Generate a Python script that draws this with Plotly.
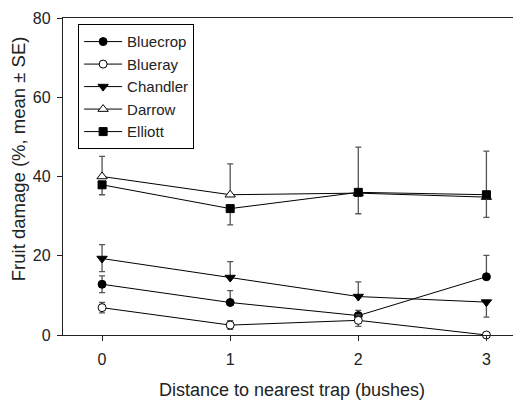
import plotly.graph_objects as go

# Distance to nearest trap (bushes)
distance = [0, 1, 2, 3]

cultivars = ["Bluecrop", "Blueray", "Chandler", "Darrow", "Elliott"]

# Mean fruit damage (%) per cultivar
bluecrop = [12.8, 8.2, 4.9, 14.7]
blueray = [6.9, 2.5, 3.7, 0.0]
chandler = [19.3, 14.5, 9.7, 8.3]
darrow = [40.0, 35.4, 35.8, 34.8]
elliott = [37.9, 31.9, 36.0, 35.4]

# Standard errors as drawn (upper / lower part of each bar)
bluecrop_se_up = [2.1, 3.0, 1.3, 5.4]
bluecrop_se_down = [2.1, 0, 0, 0]
blueray_se_up = [1.3, 1.1, 1.4, 0]
blueray_se_down = [1.3, 1.1, 1.5, 0]
chandler_se_up = [3.5, 4.0, 3.7, 0]
chandler_se_down = [3.3, 0, 0, 3.8]
darrow_se_up = [5.1, 7.8, 11.6, 11.6]
darrow_se_down = [0, 0, 0, 0]
elliott_se_up = [0, 0, 0, 0]
elliott_se_down = [2.5, 4.1, 5.4, 5.7]

series = [
    (bluecrop, bluecrop_se_up, bluecrop_se_down, "circle"),
    (blueray, blueray_se_up, blueray_se_down, "circle-open"),
    (chandler, chandler_se_up, chandler_se_down, "triangle-down"),
    (darrow, darrow_se_up, darrow_se_down, "triangle-up-open"),
    (elliott, elliott_se_up, elliott_se_down, "square"),
]

fig = go.Figure()

for name, (vals, up, down, sym) in zip(cultivars, series):
    open_marker = sym.endswith("-open")
    fig.add_trace(go.Scatter(
        x=distance, y=vals, name=name, mode="lines+markers",
        line=dict(color="black", width=1),
        marker=dict(symbol=sym.replace("-open", ""), size=9 if "triangle" in sym else 8,
                    color="white" if open_marker else "black",
                    line=dict(color="black", width=1)),
        error_y=dict(type="data", symmetric=False, array=up, arrayminus=down,
                     color="#555555", thickness=1.3, width=3),
        cliponaxis=False,
    ))

# the page body adds an 8px offset, so the figure is 8px smaller than the window
fig.update_layout(
    width=513, height=392,
    margin=dict(l=55, r=0, t=10, b=65),
    paper_bgcolor="white", plot_bgcolor="white",
    font=dict(family="Liberation Sans, Arial, sans-serif", size=16, color="#222222"),
    showlegend=True,
    legend=dict(x=0.033, y=0.98, xanchor="left", yanchor="top",
                bordercolor="black", borderwidth=1, bgcolor="white",
                font=dict(size=15), tracegroupgap=0, itemwidth=38),
)

# y title sits a bit above the plot centre in the original, so use an annotation
fig.add_annotation(
    text="Fruit damage (%, mean ± SE)", textangle=-90,
    xref="paper", yref="paper", x=-0.098, y=0.555,
    xanchor="center", yanchor="middle", showarrow=False,
    font=dict(size=18.5), borderpad=0,
)

fig.update_xaxes(
    range=[-0.305, 3.27], tickvals=distance, ticks="outside", ticklen=5,
    ticklabelstandoff=5,
    tickcolor="#222222", showline=True, linecolor="#222222", linewidth=1.3,
    mirror=True, showgrid=False, zeroline=False, automargin=False,
    title=dict(text="Distance to nearest trap (bushes)", font=dict(size=18), standoff=18),
)
fig.update_yaxes(
    range=[0, 80], tickvals=[0, 20, 40, 60, 80], ticks="outside", ticklen=5,
    ticklabelstandoff=3, ticklabeloverflow="allow",
    tickcolor="#222222", showline=True, linecolor="#222222", linewidth=1.3,
    showgrid=False, zeroline=False, automargin=False,
)

fig.write_html("out.html")
